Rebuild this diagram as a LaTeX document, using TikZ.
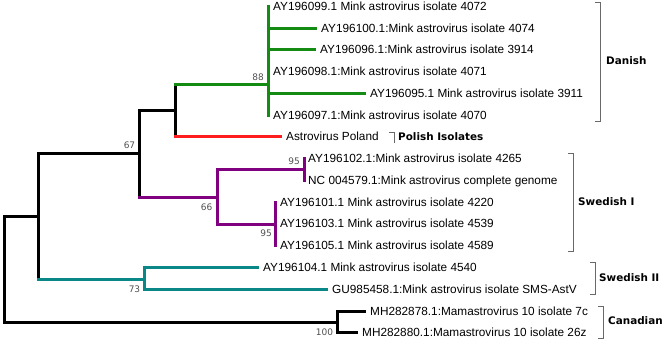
\documentclass[tikz,border=0pt]{standalone}
\usepackage{fontspec}
\setmainfont{Liberation Sans}
\newfontfamily\grpfont{DejaVu Sans}
\definecolor{tgreen}{RGB}{20,140,20}
\definecolor{tred}{RGB}{255,30,30}
\definecolor{tpurple}{RGB}{128,0,128}
\definecolor{tteal}{RGB}{10,135,135}
\definecolor{bootgray}{RGB}{80,80,80}
\definecolor{brgray}{RGB}{105,105,105}
\tikzset{
  leaf/.style={anchor=west, inner sep=0pt, font=\fontsize{11.8}{14}\selectfont, text height=8.4pt, text depth=0pt},
  boot/.style={inner sep=0pt, font=\grpfont\fontsize{9}{10}\selectfont, text=bootgray},
  grp/.style={anchor=west, inner sep=0pt, font=\grpfont\bfseries\fontsize{10.4}{12}\selectfont, text height=7.6pt, text depth=0pt},
  branch/.style={line width=3pt, line cap=rect},
  tip/.style={branch, shorten >=5.5pt},
  brk/.style={draw=brgray, line width=1pt}
}
\begin{document}
\begin{tikzpicture}[x=1pt,y=-1pt]
\useasboundingbox (0,0) rectangle (669,342);
% leaves
\node[leaf] (l0) at (273,6.5) {AY196099.1 Mink astrovirus isolate 4072};
\node[leaf] (l1) at (321,28.5) {AY196100.1:Mink astrovirus isolate 4074};
\node[leaf] (l2) at (320,49.5) {AY196096.1:Mink astrovirus isolate 3914};
\node[leaf] (l3) at (273,71.5) {AY196098.1:Mink astrovirus isolate 4071};
\node[leaf] (l4) at (370,93.5) {AY196095.1 Mink astrovirus isolate 3911};
\node[leaf] (l5) at (273,115.5) {AY196097.1:Mink astrovirus isolate 4070};
\node[leaf] (l6) at (286,136.5) {Astrovirus Poland};
\node[leaf] (l7) at (308,158.5) {AY196102.1:Mink astrovirus isolate 4265};
\node[leaf] (l8) at (308,180.5) {NC 004579.1:Mink astrovirus complete genome};
\node[leaf] (l9) at (280,202.5) {AY196101.1 Mink astrovirus isolate 4220};
\node[leaf] (l10) at (280,223.5) {AY196103.1 Mink astrovirus isolate 4539};
\node[leaf] (l11) at (280,245.5) {AY196105.1 Mink astrovirus isolate 4589};
\node[leaf] (l12) at (263,267.5) {AY196104.1 Mink astrovirus isolate 4540};
\node[leaf] (l13) at (332,289.5) {GU985458.1:Mink astrovirus isolate SMS-AstV};
\node[leaf] (l14) at (370,311.5) {MH282878.1:Mamastrovirus 10 isolate 7c};
\node[leaf] (l15) at (362,332.5) {MH282880.1:Mamastrovirus 10 isolate 26z};
% internal nodes
\coordinate (root) at (4.5,269.5);
\coordinate (nA) at (38.5,216.5);
\coordinate (nB) at (139.5,153.5);
\coordinate (nD) at (175.5,110.5);
\coordinate (nG) at (268.5,84.5);
\coordinate (nP) at (217.5,197.5);
\coordinate (nP1) at (304.5,169.5);
\coordinate (nP2) at (275.5,224.5);
\coordinate (nT) at (144.5,279.5);
\coordinate (nC) at (337.5,322.5);
% root
\draw[branch] (root |- nA) -- (root |- nC);
\draw[branch] (root |- nA) -- (nA);
\draw[branch] (root |- nC) -- (nC);
% A
\draw[branch] (nA |- nB) -- (nA |- nT);
\draw[branch] (nA |- nB) -- (nB);
\draw[branch,tteal] (nA |- nT) -- (nT);
% B
\draw[branch] (nB |- nD) -- (nB |- nP);
\draw[branch] (nB |- nD) -- (nD);
\draw[branch,tpurple] (nB |- nP) -- (nP);
% D
\draw[branch] (nD |- nG) -- (nD |- l6);
\draw[branch,tgreen] (nD |- nG) -- (nG);
\draw[tip,tred] (nD |- l6) -- (l6.west);
% G (Danish)
\draw[branch,tgreen] (nG |- l0) -- (nG |- l5);
\draw[tip,tgreen] (nG |- l1) -- (l1.west);
\draw[tip,tgreen] (nG |- l2) -- (l2.west);
\draw[tip,tgreen] (nG |- l4) -- (l4.west);
% P (Swedish I)
\draw[branch,tpurple] (nP |- nP1) -- (nP |- nP2);
\draw[branch,tpurple] (nP |- nP1) -- (nP1);
\draw[branch,tpurple] (nP |- nP2) -- (nP2);
\draw[branch,tpurple] (nP1 |- l7) -- (nP1 |- l8);
\draw[branch,tpurple] (nP2 |- l9) -- (nP2 |- l11);
% T (Swedish II)
\draw[branch,tteal] (nT |- l12) -- (nT |- l13);
\draw[tip,tteal] (nT |- l12) -- (l12.west);
\draw[tip,tteal] (nT |- l13) -- (l13.west);
% C (Canadian)
\draw[branch] (nC |- l14) -- (nC |- l15);
\draw[tip] (nC |- l14) -- (l14.west);
\draw[tip] (nC |- l15) -- (l15.west);
% bootstrap values
\node[boot] (b88) at (258,77) {88};
\node[boot] (b67) at (129.5,145) {67};
\node[boot] (b66) at (206.5,207) {66};
\node[boot] (b95a) at (294,161.5) {95};
\node[boot] (b95b) at (266,233.5) {95};
\node[boot] (b73) at (134.5,289) {73};
\node[boot] (b100) at (324.5,332) {100};
% brackets
\draw[brk] (595,2.5) -- (600.5,2.5) -- (600.5,121.5) -- (595,121.5);
\draw[brk] (568,153.5) -- (573.5,153.5) -- (573.5,251.5) -- (568,251.5);
\draw[brk] (590,262.5) -- (595.5,262.5) -- (595.5,294.5) -- (590,294.5);
\draw[brk] (598,306.5) -- (603.5,306.5) -- (603.5,338.5) -- (598,338.5);
\draw[brk] (389,132.5) -- (394.5,132.5) -- (394.5,143);
% group labels
\node[grp] (gDan) at (606,61) {Danish};
\node[grp] (gPol) at (398,136.5) {Polish Isolates};
\node[grp] (gSw1) at (578,202) {Swedish I};
\node[grp] (gSw2) at (599,278) {Swedish II};
\node[grp] (gCan) at (608,321) {Canadian};
\end{tikzpicture}
\end{document}
